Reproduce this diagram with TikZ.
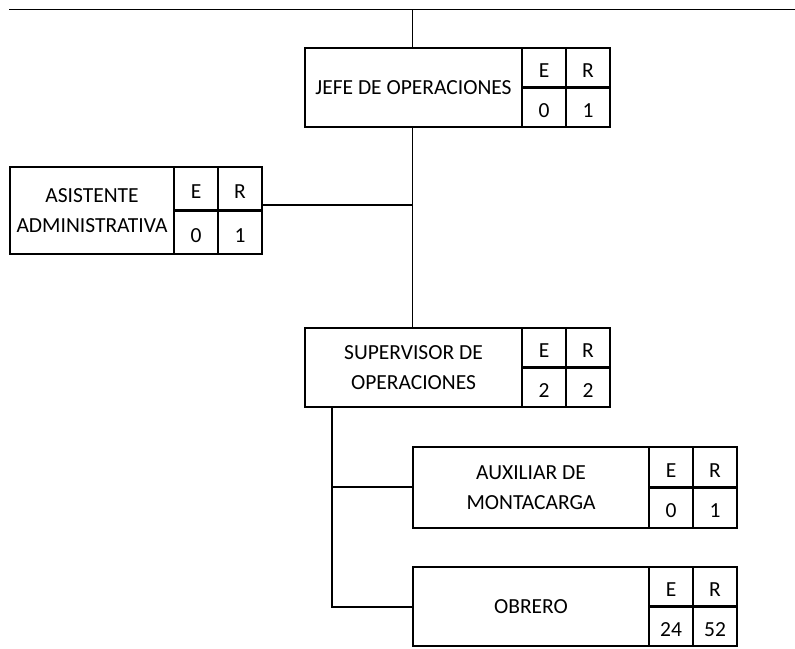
\documentclass[tikz,border=0pt]{standalone}
\usepackage{fontspec}
\setmainfont{Carlito}
\usetikzlibrary{fit}
\tikzset{
  boxline/.style={line width=2.4pt},
  conn/.style={line width=1.8pt},
  lbl/.style={font=\fontsize{21.5}{30.5}\selectfont, align=center, inner sep=0pt},
  frame/.style={draw, boxline, inner sep=0pt, rectangle}
}
% name, x1, y1, x2, y2, text, E, R
\newcommand\orgbox[8]{%
  \path (#2,#3) coordinate (#1-nw) (#4,#5) coordinate (#1-se);
  \node[frame, fit=(#1-nw)(#1-se)] (#1) {};
  \draw[boxline] ({#4-88},#3) -- ({#4-88},#5);
  \draw[boxline] ({#4-44},#3) -- ({#4-44},#5);
  \draw[boxline] ({#4-88},{(#3+#5)/2}) -- (#4,{(#3+#5)/2});
  \node[lbl] (#1-t) at ({(#2+#4-88)/2},{(#3+#5)/2}) {#6};
  \node[lbl] (#1-eh) at ({#4-66},{#3+0.25*(#5-#3)+3}) {E};
  \node[lbl] (#1-rh) at ({#4-22},{#3+0.25*(#5-#3)+3}) {R};
  \node[lbl] (#1-ev) at ({#4-66},{#3+0.75*(#5-#3)+3}) {#7};
  \node[lbl] (#1-rv) at ({#4-22},{#3+0.75*(#5-#3)+3}) {#8};
}
\begin{document}
\begin{tikzpicture}[x=1pt,y=-1pt]
\useasboundingbox (0,0) rectangle (795,648);
\orgbox{jefe}{305}{48}{610}{127}{JEFE DE OPERACIONES}{0}{1}
\orgbox{asis}{10}{167}{262}{254}{ASISTENTE\\ADMINISTRATIVA}{0}{1}
\orgbox{sup}{305}{328}{610}{407}{SUPERVISOR DE\\OPERACIONES}{2}{2}
\orgbox{aux}{413}{447}{737}{528}{AUXILIAR DE\\MONTACARGA}{0}{1}
\orgbox{obr}{413}{567}{737}{646}{OBRERO}{24}{52}
% top line
\coordinate (topL) at (9,9.5);
\coordinate (topR) at (795,9.5);
\coordinate (topM) at (412.5,9.5);
\draw[conn] (topL) -- (topR);
\draw[conn] (topM) -- (jefe.north -| topM);
\draw[conn] (jefe.south -| topM) -- (sup.north -| topM);
\coordinate (asisJ) at (412.5,205);
\draw[conn] (asis.east |- asisJ) -- (asisJ);
% supervisor branches
\coordinate (sb) at (332,407);
\coordinate (sbA) at (332,487);
\coordinate (sbO) at (332,607);
\draw[conn] (sb) -- (sbO) -- (obr.west |- sbO);
\draw[conn] (sbA) -- (aux.west |- sbA);
\end{tikzpicture}
\end{document}
